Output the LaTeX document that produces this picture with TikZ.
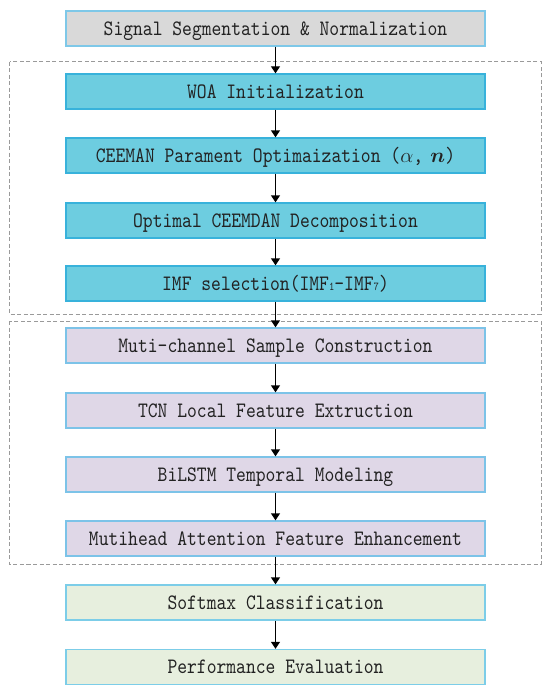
\documentclass[tikz,border=0pt]{standalone}
\usepackage{amsmath}
\usepackage{fontspec}
\newfontfamily\stepfont{lmmono10-regular}[Extension=.otf, FakeStretch=0.85]
\usetikzlibrary{arrows.meta}
\definecolor{txt}{HTML}{222222}
\definecolor{grayfill}{HTML}{D9D9D9}
\definecolor{grayline}{HTML}{7EC8E8}
\definecolor{cyanfill}{HTML}{6DCDE0}
\definecolor{cyanline}{HTML}{38B2DB}
\definecolor{purpfill}{HTML}{DFD7E7}
\definecolor{purpline}{HTML}{7CC3E8}
\definecolor{greenfill}{HTML}{E7EFDE}
\definecolor{greenline}{HTML}{7CCDE8}
\definecolor{dashcol}{HTML}{9A9A9A}
\begin{document}
\begin{tikzpicture}[x=1pt,y=-1pt,
  stepbox/.style={draw, line width=1.3pt, minimum width=419pt, minimum height=35pt,
    inner sep=0pt, text height=13.4pt, text depth=0pt, text=txt,
    font=\stepfont\fontsize{22}{24}\selectfont},
  graybox/.style={stepbox, fill=grayfill, draw=grayline},
  cyanbox/.style={stepbox, fill=cyanfill, draw=cyanline},
  purpbox/.style={stepbox, fill=purpfill, draw=purpline},
  greenbox/.style={stepbox, fill=greenfill, draw=greenline},
  arr/.style={line width=1.3pt, -{Triangle[width=9pt,length=7pt]}},
  groupframe/.style={draw=dashcol, line width=0.9pt, dash pattern=on 4pt off 2.5pt}]
\useasboundingbox (0,0) rectangle (550,693);
\draw[groupframe] (9.5,61.7) rectangle (541,314);
\draw[groupframe] (9.5,321) rectangle (541,564);
\node[graybox] (s1) at (275.5,28.5) {Signal Segmentation \& Normalization};
\node[cyanbox] (s2) at (275.5,91.5) {WOA Initialization};
\node[cyanbox] (s3) at (275.5,155.5) {CEEMAN Parament Optimaization ($\alpha$,\,\,$\boldsymbol{n}$)};
\node[cyanbox] (s4) at (275.5,220.5) {Optimal CEEMDAN Decomposition};
\node[cyanbox] (s5) at (275.5,283.5) {IMF selection(IMF{\fontsize{12}{12}\selectfont 1}-IMF{\fontsize{12}{12}\selectfont 7})};
\node[purpbox] (s6) at (275.5,345.5) {Muti-channel Sample Construction};
\node[purpbox] (s7) at (275.5,410.5) {TCN Local Feature Extruction};
\node[purpbox] (s8) at (275.5,474.5) {BiLSTM Temporal Modeling};
\node[purpbox] (s9) at (275.5,538.5) {Mutihead Attention Feature Enhancement};
\node[greenbox] (s10) at (275.5,602.5) {Softmax Classification};
\node[greenbox] (s11) at (275.5,667) {Performance Evaluation};
\foreach \a/\b in {s1/s2,s2/s3,s3/s4,s4/s5,s5/s6,s6/s7,s7/s8,s8/s9,s9/s10,s10/s11}
  \draw[arr] (\a.south) -- (\b.north);
\end{tikzpicture}
\end{document}
